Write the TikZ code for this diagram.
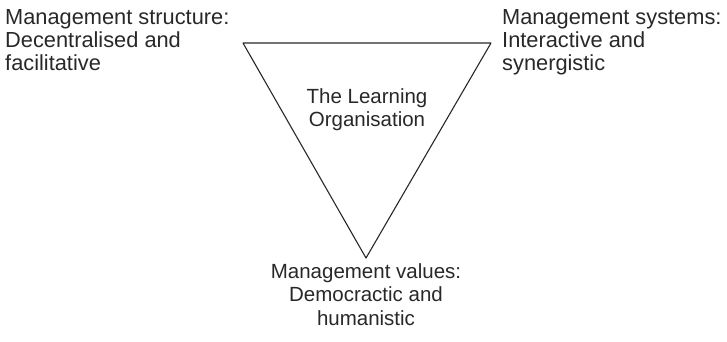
\documentclass[tikz,border=0pt]{standalone}
\usepackage{fontspec}
\setmainfont{Liberation Sans}
\usetikzlibrary{calc}

\definecolor{inkgray}{RGB}{40,40,40}

\tikzset{
    cornertext/.style={inner sep=0pt, align=left, text=inkgray, font=\fontsize{21.8}{23.3}\selectfont},
    middletext/.style={inner sep=0pt, align=center, text=inkgray, font=\fontsize{20.5}{23.5}\selectfont}
}

\begin{document}
\begin{tikzpicture}[line cap=round,line join=round,x=1pt,y=-1pt]
    \useasboundingbox (0,0) rectangle (727,341);

    % triangle corners
    \coordinate (TL) at (243,43);
    \coordinate (TR) at (491,43);
    \coordinate (BM) at (366,258);

    \draw[inkgray, line width=1.1pt] (TL) -- (TR) -- (BM) -- cycle;

    % labels
    \node[cornertext, anchor=north west] (structure) at (5,9) {Management structure:\\Decentralised and\\facilitative};
    \node[cornertext, anchor=north west] (systems) at (502,9) {Management systems:\\Interactive and\\synergistic};
    \node[middletext, anchor=north] (values) at (366,263) {Management values:\\Democractic and\\humanistic};
    \node[middletext, anchor=north] (learning) at (367,88) {The Learning\\Organisation};
\end{tikzpicture}
\end{document}
